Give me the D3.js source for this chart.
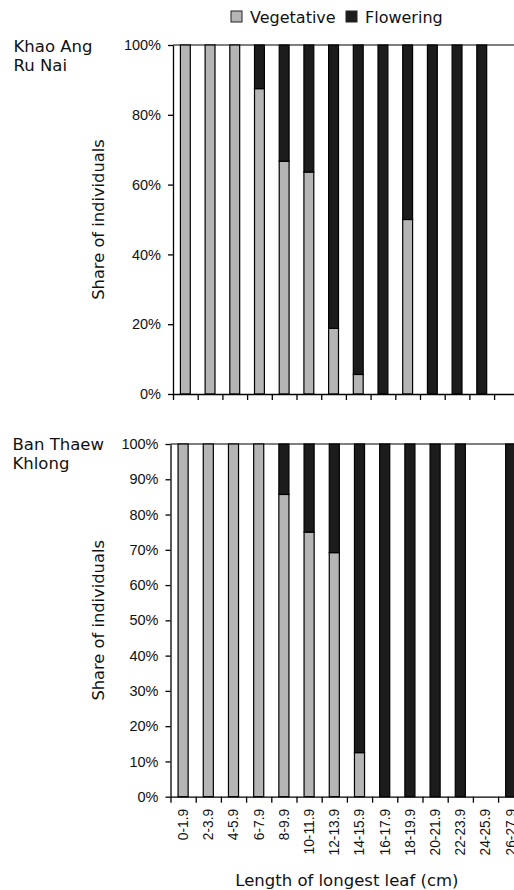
<!DOCTYPE html>
<html>
<head>
<script src="https://cdn.jsdelivr.net/npm/d3@7"></script>
<style>
body { margin: 0; padding: 0; background: #fff; }
svg { display: block; font-family: "DejaVu Sans", Verdana, sans-serif; }
</style>
</head>
<body>
<div id="viz"></div>
<script>

var categories = ["0-1.9", "2-3.9", "4-5.9", "6-7.9", "8-9.9", "10-11.9", "12-13.9",
  "14-15.9", "16-17.9", "18-19.9", "20-21.9", "22-23.9", "24-25.9", "26-27.9"];

// share of individuals, % (null = no plants in that class)
var khaoVegetative = [100, 100, 100, 87.5, 66.7, 63.6, 18.8, 5.6, 0, 50, 0, 0, 0, null];
var khaoFlowering  = [0, 0, 0, 12.5, 33.3, 36.4, 81.2, 94.4, 100, 50, 100, 100, 100, null];
var banVegetative  = [100, 100, 100, 100, 85.7, 75, 69.2, 12.5, 0, 0, 0, 0, null, 0];
var banFlowering   = [0, 0, 0, 0, 14.3, 25, 30.8, 87.5, 100, 100, 100, 100, null, 100];

var khaoTicks = [0, 20, 40, 60, 80, 100];
var banTicks = [0, 10, 20, 30, 40, 50, 60, 70, 80, 90, 100];

var seriesNames = ["Vegetative", "Flowering"];
var seriesColors = ["#b5b5b5", "#1c1c1c"];

var svg = d3.select('#viz')
  .append('svg')
  .attr('width', 514)
  .attr('height', 890);

function panel(o) {
  var g = svg.append('g');

  var x = d3.scaleBand()
    .domain(categories)
    .range([o.left, o.left + o.step * categories.length])
    .paddingInner(0.6)
    .paddingOuter(0.3);

  var y = d3.scaleLinear().domain([0, 100]).range([o.bottom, o.top]);

  var rows = [];
  categories.forEach(function(c, i) {
    if (o.veg[i] === null) return;
    rows.push({cat: c, Vegetative: o.veg[i], Flowering: o.flow[i]});
  });
  var layers = d3.stack().keys(seriesNames)(rows);

  // top border of plot area
  g.append('line')
    .attr('x1', o.left).attr('x2', x.range()[1])
    .attr('y1', y(100)).attr('y2', y(100))
    .attr('stroke', '#000').attr('stroke-width', 1.2);

  g.selectAll('g.layer').data(layers).enter().append('g')
    .attr('class', 'layer')
    .attr('fill', function(d, i) { return seriesColors[i]; })
    .selectAll('rect').data(function(d) { return d; })
    .enter().append('rect')
      .attr('x', function(d) { return x(d.data.cat); })
      .attr('width', x.bandwidth())
      .attr('y', function(d) { return y(d[1]); })
      .attr('height', function(d) { return y(d[0]) - y(d[1]); })
      .attr('stroke', '#000')
      .attr('stroke-width', function(d) { return d[1] > d[0] ? 1.2 : 0; });

  // y axis
  var ya = g.append('g')
    .attr('transform', 'translate(' + o.left + ',0)')
    .call(d3.axisLeft(y).tickValues(o.ticks).tickFormat(function(d) { return d + '%'; })
      .tickSize(5).tickPadding(7).tickSizeOuter(0));
  ya.selectAll('text').attr('font-size', 14.5).attr('font-family', null).attr('fill', '#111');
  ya.selectAll('path, line').attr('stroke', '#000').attr('stroke-width', 1.3);

  // x axis: ticks sit on the class boundaries
  var xb = d3.scaleLinear().domain([0, categories.length]).range(x.range());
  var xa = g.append('g')
    .attr('transform', 'translate(0,' + o.bottom + ')')
    .call(d3.axisBottom(xb).tickValues(d3.range(categories.length + 1))
      .tickFormat('').tickSize(6).tickSizeOuter(0));
  xa.selectAll('path, line').attr('stroke', '#000').attr('stroke-width', 1.3);

  if (o.labels) {
    var xl = g.append('g')
      .attr('transform', 'translate(0,' + o.bottom + ')')
      .call(d3.axisBottom(x).tickSize(0));
    xl.select('.domain').remove();
    xl.selectAll('text')
      .attr('font-size', 13.8).attr('font-family', null).attr('fill', '#111')
      .attr('text-anchor', 'end')
      .attr('transform', 'rotate(-90)')
      .attr('x', -12).attr('y', 0).attr('dy', '0.35em');
  }

  g.append('text')
    .attr('transform', 'translate(103.5,' + (o.top + o.bottom) / 2 + ') rotate(-90)')
    .attr('text-anchor', 'middle')
    .attr('font-size', 16.3)
    .attr('fill', '#111')
    .text('Share of individuals');

  g.selectAll('text.site').data(o.site).enter().append('text')
    .attr('class', 'site')
    .attr('x', o.siteX)
    .attr('y', function(d, i) { return o.siteY + i * 19; })
    .attr('font-size', 16.5)
    .attr('fill', '#111')
    .text(function(d) { return d; });

  return x;
}

panel({left: 173, step: 24.7, top: 45, bottom: 394, ticks: khaoTicks,
  veg: khaoVegetative, flow: khaoFlowering, labels: false,
  site: ["Khao Ang", "Ru Nai"], siteX: 13.5, siteY: 52});

panel({left: 170.5, step: 25.2, top: 444, bottom: 796.7, ticks: banTicks,
  veg: banVegetative, flow: banFlowering, labels: true,
  site: ["Ban Thaew", "Khlong"], siteX: 12.5, siteY: 450});

svg.append('text')
  .attr('x', 170.5 + 25.2 * categories.length / 2)
  .attr('y', 886)
  .attr('text-anchor', 'middle')
  .attr('font-size', 16.5)
  .attr('fill', '#111')
  .text('Length of longest leaf (cm)');

// legend
var leg = svg.append('g');
var legX = [231, 346];
seriesNames.forEach(function(name, i) {
  leg.append('rect')
    .attr('x', legX[i]).attr('y', 11)
    .attr('width', 11).attr('height', 11)
    .attr('fill', seriesColors[i])
    .attr('stroke', '#222').attr('stroke-width', 1);
  leg.append('text')
    .attr('x', legX[i] + 19).attr('y', 22.5)
    .attr('font-size', 16)
    .attr('fill', '#111')
    .text(name);
});

</script>
</body>
</html>
